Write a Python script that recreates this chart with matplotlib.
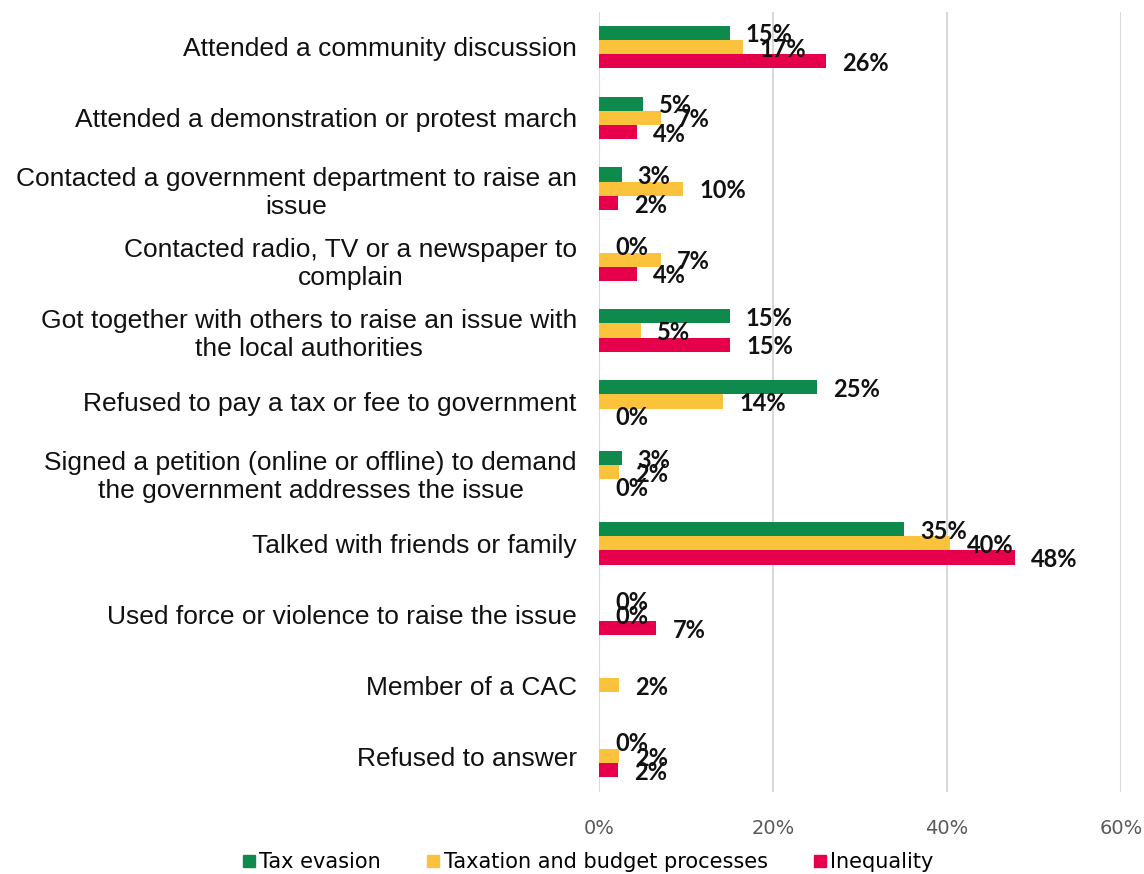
import numpy as np
import matplotlib
matplotlib.use("Agg")
import matplotlib.pyplot as plt
from matplotlib.lines import Line2D

# survey answers, top to bottom
categories = [
    "Attended a community discussion",
    "Attended a demonstration or protest march",
    "Contacted a government department to raise an\nissue",
    "Contacted radio, TV or a newspaper to\ncomplain",
    "Got together with others to raise an issue with\nthe local authorities",
    "Refused to pay a tax or fee to government",
    "Signed a petition (online or offline) to demand\nthe government addresses the issue",
    "Talked with friends or family",
    "Used force or violence to raise the issue",
    "Member of a CAC",
    "Refused to answer",
]

series_names = ["Tax evasion", "Taxation and budget processes", "Inequality"]

# percent of respondents; None = not asked
tax_evasion = [15.0, 5.0, 2.6, 0.0, 15.0, 25.1, 2.6, 35.1, 0.0, None, 0.0]
taxation_budget = [16.6, 7.1, 9.7, 7.1, 4.8, 14.3, 2.3, 40.4, 0.0, 2.3, 2.3]
inequality = [26.1, 4.4, 2.2, 4.4, 15.1, 0.0, 0.0, 47.8, 6.6, None, 2.2]

colors = ["#0E8A4C", "#FBC33C", "#E6004C"]

fig = plt.figure(figsize=(11.44, 8.74), dpi=100)
ax = fig.add_axes([599 / 1144, 1 - 791.5 / 874, (1121 - 599) / 1144, (791.5 - 11.5) / 874])

y = np.arange(len(categories))
h = 0.2
for k, (vals, col) in enumerate(zip([tax_evasion, taxation_budget, inequality], colors)):
    offs = (k - 1) * h
    for i, v in enumerate(vals):
        if v is None:
            continue
        ax.barh(y[i] + offs, v, height=h, color=col, zorder=3)
        ax.annotate(f"{v:.0f}%", xy=(v, y[i] + offs), xytext=(11.5, -1.5),
                    textcoords="offset points", ha="left", va="center",
                    fontsize=17, fontweight="bold", family="Lato",
                    color="#111111", zorder=4)

ax.set_xlim(0, 60)
ax.set_ylim(len(categories) - 0.5, -0.5)
ax.set_xticks([0, 20, 40, 60])
ax.set_xticklabels(["0%", "20%", "40%", "60%"])
ax.set_yticks(y)
ax.set_yticklabels(categories)
for lbl in ax.get_yticklabels():
    lbl.set_multialignment("center")
    lbl.set_family("Liberation Sans")
    lbl.set_fontsize(19)
    lbl.set_color("#111111")
for lbl in ax.get_xticklabels():
    lbl.set_family("DejaVu Sans")
    lbl.set_fontsize(14)
    lbl.set_color("#595959")

ax.tick_params(axis="both", length=0)
ax.tick_params(axis="x", pad=20)
ax.tick_params(axis="y", pad=16)
ax.grid(axis="x", color="#D9D9D9", linewidth=1.5, zorder=0)
for s in ax.spines.values():
    s.set_visible(False)

handles = [Line2D([], [], marker="s", linestyle="none", markersize=8,
                  markerfacecolor=c, markeredgecolor=c) for c in colors]
fig.legend(handles, series_names, loc="center", bbox_to_anchor=(588 / 1144, 1 - 862 / 874),
           ncol=3, frameon=False, handlelength=0.6, handletextpad=0.2,
           columnspacing=2.2, prop={"family": "DejaVu Sans", "size": 15})

fig.savefig("out.png", dpi=100)
